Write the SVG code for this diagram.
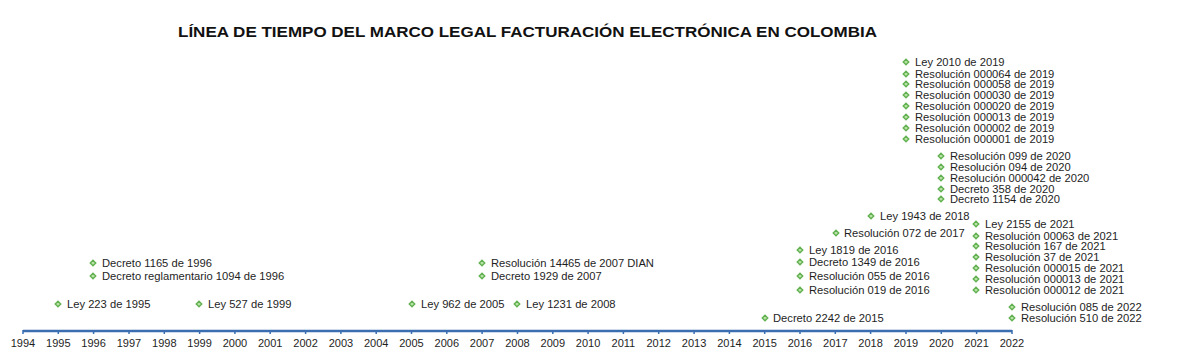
<svg xmlns="http://www.w3.org/2000/svg" xmlns:xlink="http://www.w3.org/1999/xlink" width="1184" height="363" viewBox="0 0 1184 363">
<style>
.t{font-family:"Liberation Sans",Arial,sans-serif;font-size:11.2px;fill:#1e1e1e}
.y{font-family:"Liberation Sans",Arial,sans-serif;font-size:11px;fill:#1e1e1e;text-anchor:middle}
.ti{font-family:"Liberation Sans",Arial,sans-serif;font-size:14.5px;font-weight:bold;fill:#111}
.m{fill:#b9e2a6;stroke:#5fb04e;stroke-width:1.3}
.ax{stroke:#3a6eb0;stroke-width:2.5;fill:none}
.tk{stroke:#3a6eb0;stroke-width:1.5}
</style>
<defs>
<path id="d" d="M0,-2.8 L2.8,0 L0,2.8 L-2.8,0Z"/>
</defs>
<rect width="1184" height="363" fill="#fff"/>
<text class="ti" x="178" y="37" textLength="699" lengthAdjust="spacingAndGlyphs">LÍNEA DE TIEMPO DEL MARCO LEGAL FACTURACIÓN ELECTRÓNICA EN COLOMBIA</text>
<g id="connectors">
<line class="ax" x1="23" y1="331" x2="1012" y2="331"/>
<g class="tk">
<line x1="23" y1="330" x2="23" y2="334"/><line x1="58.3" y1="330" x2="58.3" y2="334"/><line x1="93.6" y1="330" x2="93.6" y2="334"/><line x1="129" y1="330" x2="129" y2="334"/><line x1="164.3" y1="330" x2="164.3" y2="334"/><line x1="199.6" y1="330" x2="199.6" y2="334"/><line x1="234.9" y1="330" x2="234.9" y2="334"/><line x1="270.2" y1="330" x2="270.2" y2="334"/><line x1="305.6" y1="330" x2="305.6" y2="334"/><line x1="340.9" y1="330" x2="340.9" y2="334"/><line x1="376.2" y1="330" x2="376.2" y2="334"/><line x1="411.5" y1="330" x2="411.5" y2="334"/><line x1="446.8" y1="330" x2="446.8" y2="334"/><line x1="482.1" y1="330" x2="482.1" y2="334"/><line x1="517.5" y1="330" x2="517.5" y2="334"/><line x1="552.8" y1="330" x2="552.8" y2="334"/><line x1="588.1" y1="330" x2="588.1" y2="334"/><line x1="623.4" y1="330" x2="623.4" y2="334"/><line x1="658.7" y1="330" x2="658.7" y2="334"/><line x1="694.1" y1="330" x2="694.1" y2="334"/><line x1="729.4" y1="330" x2="729.4" y2="334"/><line x1="764.7" y1="330" x2="764.7" y2="334"/><line x1="800" y1="330" x2="800" y2="334"/><line x1="835.3" y1="330" x2="835.3" y2="334"/><line x1="870.6" y1="330" x2="870.6" y2="334"/><line x1="906" y1="330" x2="906" y2="334"/><line x1="941.3" y1="330" x2="941.3" y2="334"/><line x1="976.6" y1="330" x2="976.6" y2="334"/><line x1="1012" y1="330" x2="1012" y2="334"/>
</g>
</g>
<g id="years">
<text class="y" x="23" y="347">1994</text><text class="y" x="58.3" y="347">1995</text><text class="y" x="93.6" y="347">1996</text><text class="y" x="129" y="347">1997</text><text class="y" x="164.3" y="347">1998</text><text class="y" x="199.6" y="347">1999</text><text class="y" x="234.9" y="347">2000</text><text class="y" x="270.2" y="347">2001</text><text class="y" x="305.6" y="347">2002</text><text class="y" x="340.9" y="347">2003</text><text class="y" x="376.2" y="347">2004</text><text class="y" x="411.5" y="347">2005</text><text class="y" x="446.8" y="347">2006</text><text class="y" x="482.1" y="347">2007</text><text class="y" x="517.5" y="347">2008</text><text class="y" x="552.8" y="347">2009</text><text class="y" x="588.1" y="347">2010</text><text class="y" x="623.4" y="347">2011</text><text class="y" x="658.7" y="347">2012</text><text class="y" x="694.1" y="347">2013</text><text class="y" x="729.4" y="347">2014</text><text class="y" x="764.7" y="347">2015</text><text class="y" x="800" y="347">2016</text><text class="y" x="835.3" y="347">2017</text><text class="y" x="870.6" y="347">2018</text><text class="y" x="906" y="347">2019</text><text class="y" x="941.3" y="347">2020</text><text class="y" x="976.6" y="347">2021</text><text class="y" x="1012" y="347">2022</text>
</g>
<g id="n1995"><use href="#d" class="m" x="58" y="304"/><text class="t" x="67" y="308">Ley 223 de 1995</text></g>
<g id="n1999"><use href="#d" class="m" x="199" y="304"/><text class="t" x="208" y="308">Ley 527 de 1999</text></g>
<g id="n1996">
<use href="#d" class="m" x="93" y="263"/><text class="t" x="102" y="267">Decreto 1165 de 1996</text>
<use href="#d" class="m" x="93" y="276"/><text class="t" x="102" y="280">Decreto reglamentario 1094 de 1996</text>
</g>
<g id="n2005"><use href="#d" class="m" x="412" y="304"/><text class="t" x="421" y="308">Ley 962 de 2005</text></g>
<g id="n2008"><use href="#d" class="m" x="517" y="304"/><text class="t" x="526" y="308">Ley 1231 de 2008</text></g>
<g id="n2007">
<use href="#d" class="m" x="482" y="263"/><text class="t" x="491" y="267">Resolución 14465 de 2007 DIAN</text>
<use href="#d" class="m" x="482" y="276"/><text class="t" x="491" y="280">Decreto 1929 de 2007</text>
</g>
<g id="n2015"><use href="#d" class="m" x="765" y="318"/><text class="t" x="773" y="322">Decreto 2242 de 2015</text></g>
<g id="n2016">
<use href="#d" class="m" x="800" y="250"/><text class="t" x="809" y="254">Ley 1819 de 2016</text>
<use href="#d" class="m" x="800" y="262"/><text class="t" x="809" y="266">Decreto 1349 de 2016</text>
<use href="#d" class="m" x="800" y="276"/><text class="t" x="809" y="280">Resolución 055 de 2016</text>
<use href="#d" class="m" x="800" y="290"/><text class="t" x="809" y="294">Resolución 019 de 2016</text>
</g>
<g id="n2017"><use href="#d" class="m" x="836" y="233"/><text class="t" x="844" y="237">Resolución 072 de 2017</text></g>
<g id="n2018"><use href="#d" class="m" x="871" y="216"/><text class="t" x="880" y="220">Ley 1943 de 2018</text></g>
<g id="n2019">
<use href="#d" class="m" x="906" y="62"/><text class="t" x="915" y="66">Ley 2010 de 2019</text>
<use href="#d" class="m" x="906" y="74"/><text class="t" x="915" y="78">Resolución 000064 de 2019</text>
<use href="#d" class="m" x="906" y="84"/><text class="t" x="915" y="88">Resolución 000058 de 2019</text>
<use href="#d" class="m" x="906" y="95"/><text class="t" x="915" y="99">Resolución 000030 de 2019</text>
<use href="#d" class="m" x="906" y="106"/><text class="t" x="915" y="110">Resolución 000020 de 2019</text>
<use href="#d" class="m" x="906" y="117"/><text class="t" x="915" y="121">Resolución 000013 de 2019</text>
<use href="#d" class="m" x="906" y="128"/><text class="t" x="915" y="132">Resolución 000002 de 2019</text>
<use href="#d" class="m" x="906" y="139"/><text class="t" x="915" y="143">Resolución 000001 de 2019</text>
</g>
<g id="n2020">
<use href="#d" class="m" x="941" y="156"/><text class="t" x="950" y="160">Resolución 099 de 2020</text>
<use href="#d" class="m" x="941" y="167"/><text class="t" x="950" y="171">Resolución 094 de 2020</text>
<use href="#d" class="m" x="941" y="178"/><text class="t" x="950" y="182">Resolución 000042 de 2020</text>
<use href="#d" class="m" x="941" y="189"/><text class="t" x="950" y="193">Decreto 358 de 2020</text>
<use href="#d" class="m" x="941" y="199"/><text class="t" x="950" y="203">Decreto 1154 de 2020</text>
</g>
<g id="n2021">
<use href="#d" class="m" x="976" y="224"/><text class="t" x="985" y="228">Ley 2155 de 2021</text>
<use href="#d" class="m" x="976" y="236"/><text class="t" x="985" y="240">Resolución 00063 de 2021</text>
<use href="#d" class="m" x="976" y="246"/><text class="t" x="985" y="250">Resolución 167 de 2021</text>
<use href="#d" class="m" x="976" y="257"/><text class="t" x="985" y="261">Resolución 37 de 2021</text>
<use href="#d" class="m" x="976" y="268"/><text class="t" x="985" y="272">Resolución 000015 de 2021</text>
<use href="#d" class="m" x="976" y="279"/><text class="t" x="985" y="283">Resolución 000013 de 2021</text>
<use href="#d" class="m" x="976" y="290"/><text class="t" x="985" y="294">Resolución 000012 de 2021</text>
</g>
<g id="n2022">
<use href="#d" class="m" x="1012" y="307"/><text class="t" x="1021" y="311">Resolución 085 de 2022</text>
<use href="#d" class="m" x="1012" y="318"/><text class="t" x="1021" y="322">Resolución 510 de 2022</text>
</g>
</svg>
